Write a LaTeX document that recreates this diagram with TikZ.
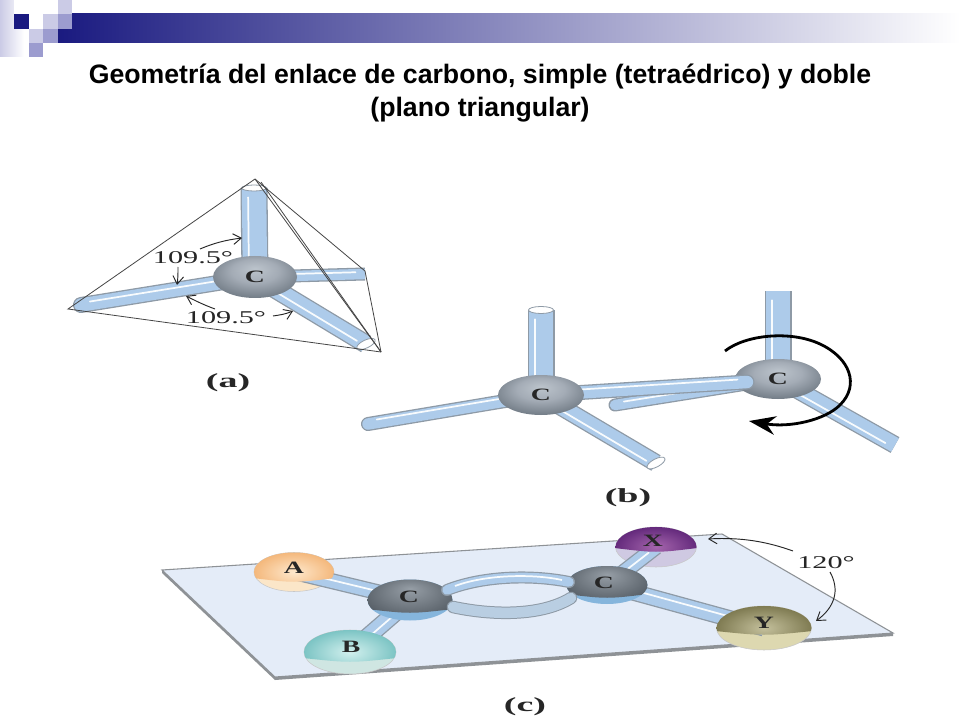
\documentclass[tikz,border=0pt]{standalone}
\usepackage{graphicx}
\usepackage{fontspec}
\setmainfont{Liberation Sans}
\newfontfamily\figfont{Liberation Serif}
\usetikzlibrary{calc,shapes.geometric,arrows.meta}
\definecolor{navy}{HTML}{1A1A80}
\definecolor{sqlight}{HTML}{CBCBE6}
\definecolor{sqmed}{HTML}{9C9CCF}
\definecolor{rodblue}{HTML}{ADCBEA}
\definecolor{rodedge}{HTML}{8E9AA6}
\definecolor{planefill}{HTML}{E4ECF8}
\definecolor{planeedge}{HTML}{8E9296}
\definecolor{thinline}{HTML}{454545}
\definecolor{under}{HTML}{85B5DC}
\definecolor{lowbond}{HTML}{B9CEE2}
\definecolor{cbA}{HTML}{BCC4CC}
\definecolor{cbB}{HTML}{A4ACB6}
\definecolor{cbC}{HTML}{707A84}
\definecolor{cbD}{HTML}{58626C}
\definecolor{cdA}{HTML}{969EA6}
\definecolor{cdB}{HTML}{788088}
\definecolor{cdC}{HTML}{545C64}
\definecolor{cdD}{HTML}{464E56}
\definecolor{AIn}{HTML}{FEE8CC}
\definecolor{AOut}{HTML}{F4B87C}
\definecolor{ALow}{HTML}{FBE6C8}
\definecolor{BIn}{HTML}{D2F0EE}
\definecolor{BOut}{HTML}{7CC4C4}
\definecolor{BLow}{HTML}{CFE6E2}
\definecolor{XIn}{HTML}{A565AD}
\definecolor{XOut}{HTML}{642A7C}
\definecolor{XLow}{HTML}{CFC9E2}
\definecolor{YIn}{HTML}{C4C09C}
\definecolor{YOut}{HTML}{7F7B52}
\definecolor{YLow}{HTML}{DDD8B0}
\pgfdeclareradialshading{carbon}{\pgfpoint{0bp}{10bp}}{
  color(0bp)=(cbA);
  color(14bp)=(cbB);
  color(30bp)=(cbC);
  color(44bp)=(cbD);
  color(50bp)=(cbD)}
\pgfdeclareradialshading{carbondark}{\pgfpoint{0bp}{14bp}}{
  color(0bp)=(cdA);
  color(14bp)=(cdB);
  color(30bp)=(cdC);
  color(50bp)=(cdD)}
\tikzset{
  ballsize/.style 2 args={ellipse,minimum width=#1*0.75pt,minimum height=#2*0.75pt,inner sep=0pt},
  carbonball/.style={shading=carbon,text=black!85},
  tetra/.style={draw=thinline,line width=0.6pt},
  anglearrow/.style={draw=black!85,line width=0.7pt,-{Straight Barb[length=6pt,width=8pt]}},
  figlabel/.style={font=\figfont\bfseries\fontsize{15}{15}\selectfont,text=black!85},
  anglelabel/.style={font=\figfont\fontsize{13.5}{14}\selectfont,text=black!85},
  atomlabel/.style={font=\figfont\bfseries\fontsize{13}{14}\selectfont,text=black!85},
  capend/.style={draw=rodedge,fill=white,line width=0.6pt},
  ballA/.style={shading=radial,inner color=AIn,outer color=AOut},
  ballB/.style={shading=radial,inner color=BIn,outer color=BOut},
  ballX/.style={shading=radial,inner color=XIn,outer color=XOut},
  ballY/.style={shading=radial,inner color=YIn,outer color=YOut},
}
% \rodline{from}{to}{width}{highlight offset}{cap}
\newcommand\rodline[5]{%
  \draw[rodedge,line width=#3*0.75pt,line cap=#5] (#1) -- (#2);
  \draw[rodblue,line width=(#3-2.6)*0.75pt,line cap=#5] (#1) -- (#2);
  \draw[white!92!rodblue,line width=1.3pt,line cap=round,shorten <=12pt,shorten >=7pt]
    ($(#1)!#4*0.75pt!90:(#2)$) -- ($(#2)!#4*0.75pt!-90:(#1)$);
}
\newcommand\wide[2]{\scalebox{#1}[1]{#2}}
% \hemiball{x}{y}{rx}{ry}{cut}{shading options}
\newcommand\hemiball[6]{%
  \begin{scope}
    \clip (#1-#3-1,#2-#4-1) -- (#1+#3+1,#2-#4-1) -- (#1+#3+1,#2+#5)
      .. controls (#1,#2+#5+5) .. (#1-#3-1,#2+#5) -- cycle;
    \node[ballsize={#3*2}{#4*2},#6] at (#1,#2) {};
  \end{scope}
}
\begin{document}
\begin{tikzpicture}[x=0.75pt,y=-0.75pt]
\useasboundingbox (0,0) rectangle (960,720);
\fill[white] (0,0) rectangle (960,720);

% ---- slide decoration
\shade[left color=sqlight,right color=white] (0,0) rectangle (24,57);
\shade[left color=navy,right color=white,middle color=navy!50!white] (58,14) rectangle (960,43);
\fill[white] (14,0) rectangle (58,14);
\fill[white] (14,14) rectangle (43,29);
\fill[navy] (14,14) rectangle (29,29);
\fill[sqlight] (43,14) rectangle (58,29);
\fill[sqlight] (58,0) rectangle (72,14);
\fill[sqmed] (58,14) rectangle (72,29);
\fill[sqlight] (29,29) rectangle (43,43);
\fill[sqmed] (43,29) rectangle (58,43);
\fill[sqmed] (29,43) rectangle (43,57);

% ---- title
\node[font=\bfseries\fontsize{20}{24.75}\selectfont,align=center,text=black] (title) at (480,93.5)
  {Geometría del enlace de carbono, simple (tetraédrico) y doble\\(plano triangular)};

% ---- (a)
\coordinate (ca) at (255,277);
\coordinate (atop) at (254,188);
\coordinate (aleft) at (81,305);
\coordinate (aright) at (365,274);
\coordinate (abr) at (366,344);
\coordinate (tA) at (255,179);
\coordinate (tL) at (68,309);
\coordinate (tB) at (381,352);
\coordinate (tR) at (365,271);
\rodline{ca}{atop}{27}{6}{butt}
\rodline{ca}{aleft}{16}{-2}{round}
\rodline{ca}{aright}{13}{2}{butt}
\rodline{ca}{abr}{19}{-2}{butt}
\draw[capend,rotate around={25:(abr)}] (abr) ellipse [x radius=10,y radius=4];
\draw[capend] (atop) ellipse [x radius=12.5,y radius=3];
\node[ballsize={84}{42},carbonball,atomlabel] (Ca) at (ca) {\wide{1.6}{C}};
\draw[tetra] (tA) -- (tL) -- (tB);
\draw[tetra] (tA) -- (tR) -- (tB);
\draw[tetra] (tA) -- (tB);
\draw[tetra] ($(tA)+(6,3)$) -- (tB);
\draw[anglearrow] (200,249) .. controls (214,243) and (226,240) .. (242,238);
\draw[anglearrow] (178,267) .. controls (178,274) and (178,278) .. (177,285);
\draw[anglearrow] (215,309) .. controls (204,305) and (196,301) .. (186,296);
\draw[anglearrow] (273,316) .. controls (280,315) and (286,314) .. (293,311);
\node[anglelabel] (a1095a) at (193,258) {\wide{1.68}{109.5°}};
\node[anglelabel] (a1095b) at (226,318) {\wide{1.68}{109.5°}};
\node[figlabel] (la) at (228,383) {\wide{1.9}{(a)}};

% ---- (b)
\coordinate (c1) at (541,395);
\coordinate (c2) at (778,379);
\coordinate (b1top) at (541,310);
\coordinate (b1left) at (368,424);
\coordinate (b1low) at (656,463);
\coordinate (b2top) at (778,291);
\coordinate (b2back) at (615,405);
\coordinate (b2low) at (895,445);
\coordinate (bondend) at (747,382);
\rodline{c2}{b2back}{13}{-2}{round}
\rodline{c2}{b2top}{27}{6}{butt}
\rodline{c2}{b2low}{18}{-3}{butt}
\node[ballsize={86}{40},carbonball,atomlabel] (Cb2) at (c2) {\wide{1.6}{C}};
\rodline{c1}{b1top}{27}{6}{butt}
\rodline{c1}{b1left}{14}{-3}{round}
\rodline{c1}{b1low}{18}{-3}{butt}
\draw[capend,rotate around={28:(b1low)}] (b1low) ellipse [x radius=10,y radius=4];
\draw[capend] (b1top) ellipse [x radius=12.5,y radius=3.5];
\rodline{c1}{bondend}{15}{3}{round}
\node[ballsize={86}{40},carbonball,atomlabel] (Cb1) at (c1) {\wide{1.6}{C}};
\draw[black,line width=2.1pt,-{Stealth[length=20pt,width=14pt]}]
  (725,351) .. controls (745,335) and (790,330) .. (820,344)
  .. controls (850,358) and (860,385) .. (840,405)
  .. controls (825,420) and (790,428) .. (749,421);
\node[figlabel] (lb) at (628,498) {\wide{1.9}{(b)}};

% ---- (c)
\coordinate (p1) at (162,570);
\coordinate (p2) at (722,534);
\coordinate (p3) at (893,633);
\coordinate (p4) at (275,677);
\fill[planeedge] ($(p4)+(0,3)$) -- ($(p3)+(0,3)$) -- (p3) -- (p4) -- cycle;
\fill[planeedge] (p1) -- ($(p1)+(0,3)$) -- ($(p4)+(0,3)$) -- (p4) -- cycle;
\filldraw[fill=planefill,draw=planeedge,line width=0.8pt] (p1) -- (p2) -- (p3) -- (p4) -- cycle;

\coordinate (cc1) at (410,600);
\coordinate (cc2) at (607,585);
\coordinate (ca1) at (294,572);
\coordinate (cb1) at (350,652);
\coordinate (cx1) at (656,547);
\coordinate (cy1) at (764,628);

% balls with the part under the plane
\node[ballsize={80}{39},fill=ALow,draw=black!22] (Ac) at (ca1) {};
\node[ballsize={92}{44},fill=BLow,draw=black!22] (Bc) at (cb1) {};
\node[ballsize={81}{40},fill=XLow,draw=black!22] (Xc) at (cx1) {};
\node[ballsize={95}{44},fill=YLow,draw=black!22] (Yc) at (cy1) {};

\rodline{cc1}{ca1}{16}{-1}{butt}
\rodline{cc1}{cb1}{18}{1}{butt}
\rodline{cc2}{cx1}{16}{0}{butt}
\rodline{cc2}{cy1}{17}{2}{butt}
\hemiball{294}{572}{40}{19.5}{6}{ballA}
\hemiball{350}{652}{46}{22}{6}{ballB}
\hemiball{656}{547}{40.5}{20}{1}{ballX}
\hemiball{764}{628}{47.5}{22}{3}{ballY}

\node[ballsize={85}{41},fill=under] (Cc1) at (cc1) {};
\node[ballsize={81}{38},fill=under] (Cc2) at (cc2) {};
\hemiball{410}{600}{42.5}{20.5}{9}{shading=carbondark}
\hemiball{607}{585}{40.5}{19}{9}{shading=carbondark}
\draw[rodedge,line width=12.5*0.75pt,line cap=round] (453,607) .. controls (490,615) and (540,617) .. (571,598);
\draw[lowbond,line width=10.5*0.75pt,line cap=round] (453,607) .. controls (490,615) and (540,617) .. (571,598);
\draw[rodedge,line width=12*0.75pt,line cap=round] (447,590) .. controls (485,575) and (535,575) .. (569,582);
\draw[rodblue,line width=9.6*0.75pt,line cap=round] (447,590) .. controls (485,575) and (535,575) .. (569,582);
\draw[white!92!rodblue,line width=1.3pt] (455,586) .. controls (487,574) and (535,574) .. (562,580);

\node[atomlabel] (tA1) at (294,568) {\wide{1.6}{A}};
\node[atomlabel] (tB1) at (351,647) {\wide{1.6}{B}};
\node[atomlabel] (tX1) at (653,541) {\wide{1.6}{X}};
\node[atomlabel] (tY1) at (764,623) {\wide{1.6}{Y}};
\node[atomlabel] (tC1) at (409,597) {\wide{1.6}{C}};
\node[atomlabel] (tC2) at (604,583) {\wide{1.6}{C}};

\draw[anglearrow] (793,551) .. controls (768,542) and (742,537) .. (708,539);
\draw[anglearrow] (830,572) .. controls (840,590) and (835,607) .. (816,621);
\node[anglelabel] (a120) at (826,563) {\wide{1.68}{120°}};
\node[figlabel] (lc) at (525,707) {\wide{1.9}{(c)}};
\end{tikzpicture}
\end{document}
